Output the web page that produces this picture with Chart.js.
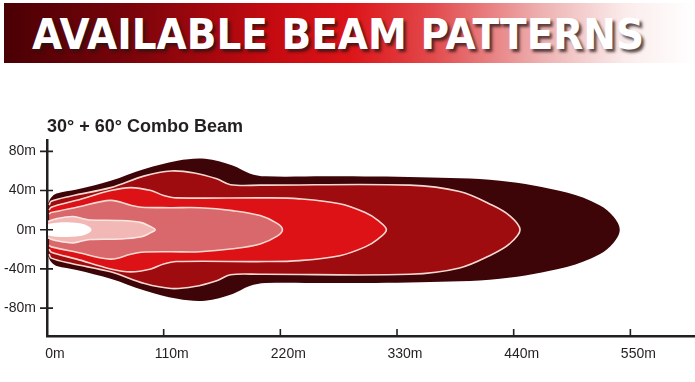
<!DOCTYPE html>
<html>
<head>
<meta charset="utf-8">
<script src="https://cdn.jsdelivr.net/npm/chart.js@4.4.1/dist/chart.umd.min.js"></script>
<style>
  html, body { margin: 0; padding: 0; background: #fff; }
  #wrap { position: relative; width: 695px; height: 382px; overflow: hidden; }
  #banner {
    position: absolute; left: 4px; top: 3px; width: 691px; height: 60px;
    background: linear-gradient(to right, #4a0004 0%, #78040a 18%, #c30a10 38%, #dc1418 50%, #e24a4c 62%, #eeb2b2 78%, #fbecec 90%, #ffffff 100%);
  }
  #bannerText {
    position: absolute; left: 28px; top: 10px; white-space: nowrap;
    font-family: "DejaVu Sans", sans-serif; font-weight: bold; font-size: 43px; line-height: 43px;
    color: #fff; transform-origin: 0 0;
    text-shadow: 3px 3px 3px rgba(40, 20, 20, 0.75);
  }
  #beamChart { position: absolute; left: 0; top: 0; }
</style>
</head>
<body>
<div id="wrap">
  <canvas id="beamChart" width="695" height="382"></canvas>
  <div id="banner"><span id="bannerText">AVAILABLE BEAM PATTERNS</span></div>
</div>
<script>
// Contours du faisceau : [distance (m), demi-largeur (m)], du plus large au plus étroit
const outerBeam = [[1,27],[4,33],[9,37],[28,41],[60,50],[92,62],[123,70.5],[149,72.5],[175,65.5],[191,57.5],[206,54.5],[267,54.5],[352,53.5],[427,50],[490,38],[521,25],[534,13.5],[540,0]];
const darkBeam = [[2,25],[4,29],[23,34.5],[60,43],[92,55],[117,60],[139,58],[160,52],[173,46],[201,45.5],[342,45.5],[389,39],[420,25],[436,14.5],[446,0]];
const redBeam = [[2,20],[4,23],[28,30],[60,40],[79,43],[98,40],[110,35],[122,32.5],[207,32.5],[238,31.5],[276,26.5],[300,17.5],[312,9.5],[320,0]];
const salmonBeam = [[2,16],[4,17.5],[28,23],[60,30],[79,25],[89,23],[116,22.5],[144,22.5],[175,19.5],[201,14.5],[217,6.5],[222,0]];
const pinkBeam = [[1,8.5],[8,11],[24,13.5],[33,11.5],[41,10],[69,9.5],[88,7.5],[97,3.5],[102,0]];
const coreBeam = [[1,6],[12,7.5],[31,6.5],[39,3.5],[42,0]];

const zoneColors = ['#3d0508', '#9e0c10', '#dc1217', '#d8686b', '#f2b8b6', '#ffffff'];
const zoneBorders = ['rgba(0,0,0,0)', '#f8d8d0', '#f8d8d0', '#f8d8d0', '#fbe6e2', 'rgba(0,0,0,0)'];

const xTicks = [0, 110, 220, 330, 440, 550];
const yTicks = [-80, -40, 0, 40, 80];

// bord supérieur puis bord inférieur (symétrique) => forme fermée
function closedShape(zone) {
    const top = zone.map(p => ({ x: p[0], y: p[1] }));
    const bottom = zone.slice(0, -1).reverse().map(p => ({ x: p[0], y: -p[1] }));
    return top.concat(bottom);
}

const zones = [outerBeam, darkBeam, redBeam, salmonBeam, pinkBeam, coreBeam];
const datasets = zones.map((zone, i) => ({
    data: closedShape(zone),
    backgroundColor: zoneColors[i],
    borderColor: zoneBorders[i],
    borderWidth: 1.6,
    fill: 'shape',
    tension: 0.35,
    pointRadius: 0,
    order: zones.length - i
}));

// petits traits de graduation qui traversent les axes
const tickMarks = {
    id: 'tickMarks',
    afterDraw(chart) {
        const ctx = chart.ctx;
        const xs = chart.scales.x, ys = chart.scales.y;
        ctx.save();
        ctx.strokeStyle = '#231f20';
        ctx.lineWidth = 1.6;
        ctx.beginPath();
        xTicks.slice(1).forEach(v => {
            const px = xs.getPixelForValue(v);
            ctx.moveTo(px, ys.bottom - 7);
            ctx.lineTo(px, ys.bottom + 1);
        });
        yTicks.forEach(v => {
            const py = ys.getPixelForValue(v);
            ctx.moveTo(xs.left - 7, py);
            ctx.lineTo(xs.left + 6, py);
        });
        ctx.stroke();
        ctx.restore();
    }
};

const tickFont = { family: 'Liberation Sans', size: 14 };

new Chart(document.getElementById('beamChart').getContext('2d'), {
    type: 'line',
    data: { datasets: datasets },
    plugins: [tickMarks],
    options: {
        responsive: false,
        animation: false,
        layout: { padding: { top: 116, left: 4, right: 1, bottom: 0 } },
        plugins: {
            legend: { display: false },
            tooltip: { enabled: false },
            title: {
                display: true,
                text: '30° + 60° Combo Beam',
                align: 'start',
                fullSize: false,
                color: '#231f20',
                font: { family: 'Liberation Sans', size: 18, weight: 'bold' },
                padding: { top: 0, bottom: 3 }
            }
        },
        scales: {
            x: {
                type: 'linear',
                min: 0,
                max: 610,
                z: 1,
                grid: { display: false, drawTicks: false },
                border: { display: true, color: '#231f20', width: 2.5 },
                afterBuildTicks: s => { s.ticks = xTicks.map(v => ({ value: v })); },
                afterFit: s => { s.height = 46; },
                ticks: {
                    color: '#231f20',
                    font: tickFont,
                    padding: 10,
                    labelOffset: 8,
                    maxRotation: 0,
                    callback: v => v + 'm'
                }
            },
            y: {
                type: 'linear',
                min: -108.5,
                max: 91,
                z: 1,
                grid: { display: false, drawTicks: false },
                border: { display: true, color: '#231f20', width: 2.5 },
                afterBuildTicks: s => { s.ticks = yTicks.map(v => ({ value: v })); },
                afterFit: s => { s.width = 43; },
                ticks: {
                    color: '#231f20',
                    font: tickFont,
                    padding: 11,
                    callback: v => v + 'm'
                }
            }
        }
    }
});

// ajuster la largeur du titre de la bannière
const bt = document.getElementById('bannerText');
bt.style.transform = 'scaleX(' + (612 / bt.getBoundingClientRect().width) + ')';
</script>
</body>
</html>
